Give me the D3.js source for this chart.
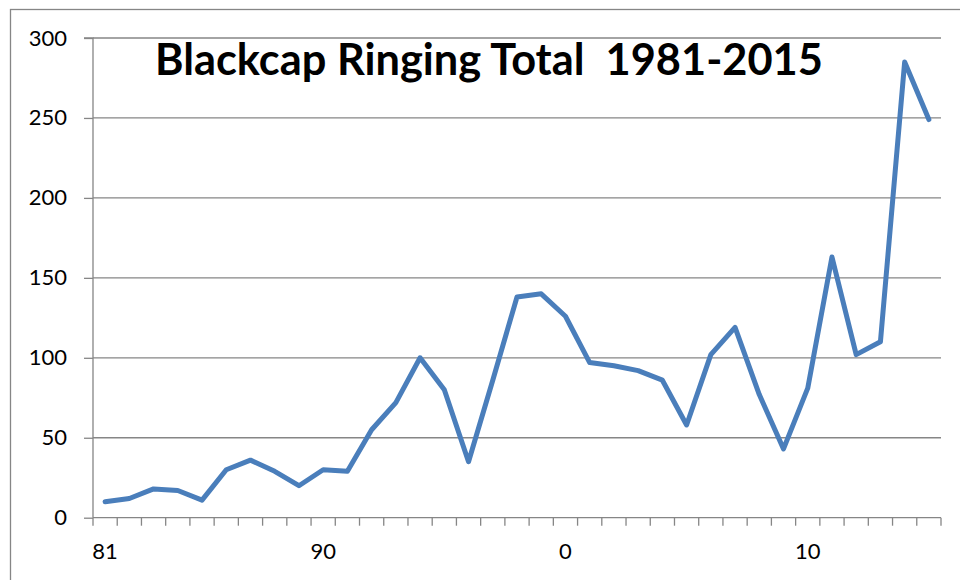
<!DOCTYPE html>
<html><head><meta charset="utf-8">
<script src="https://cdn.jsdelivr.net/npm/d3@7"></script>
<style>body{margin:0;background:#fff;} svg{display:block;}</style>
</head><body>
<svg id="chart" width="960" height="580"></svg>
<script>
const years = d3.range(1981, 2016);
const totals = [10,12,18,17,11,30,36,29,20,30,29,55,72,100,80,35,86,138,140,126,97,95,92,86,58,102,119,77,43,81,163,102,110,285,249];
const yTicks = [0,50,100,150,200,250,300];
const xLabels = {1981:"81",1990:"90",2000:"0",2010:"10"};
const title = "Blackcap Ringing Total  1981-2015";

const svg = d3.select("#chart");
const L = 93, R = 941, T = 38, B = 517.7;
const grid = "#868686";
const font = "Lato, 'Noto Sans', sans-serif";

svg.append("rect").attr("x",10.5).attr("y",9.5).attr("width",980).attr("height",620)
  .attr("fill","none").attr("stroke",grid).attr("stroke-width",1.3);

const x = d3.scaleBand().domain(years).range([L,R]).padding(0);
const y = d3.scaleLinear().domain([0,300]).range([B,T]);

// gridlines
svg.append("g").selectAll("line").data(yTicks.filter(d=>d>0)).join("line")
  .attr("x1",L).attr("x2",R).attr("y1",d=>y(d)).attr("y2",d=>y(d))
  .attr("stroke",grid).attr("stroke-width",1.3);

// y axis
const ya = svg.append("g").attr("transform",`translate(${L},0)`)
  .call(d3.axisLeft(y).tickValues(yTicks).tickSize(9).tickPadding(17));
ya.selectAll("path,line").attr("stroke",grid).attr("stroke-width",1.3);
ya.select(".domain").attr("d",`M-9,${T}H0V${B}`);
ya.selectAll("text").attr("font-family",font).attr("font-size",22).attr("fill","#000");

// x axis
const xa = svg.append("g").attr("transform",`translate(0,${B})`)
  .call(d3.axisBottom(x).tickValues(years).tickSize(0).tickPadding(0).tickFormat(d=>xLabels[d]||""));
xa.select(".domain").attr("d",`M${L},0H${R}`).attr("stroke",grid).attr("stroke-width",1.3);
xa.selectAll("text").attr("font-family",font).attr("font-size",22).attr("fill","#000").attr("dy",0).attr("y",41);
const edges = years.map(d=>x(d)).concat([R]);
xa.append("g").selectAll("line").data(edges).join("line")
  .attr("x1",d=>d).attr("x2",d=>d).attr("y1",0).attr("y2",8)
  .attr("stroke",grid).attr("stroke-width",1.3);

// line
const line = d3.line().x((d,i)=>x(years[i])+x.bandwidth()/2).y(d=>y(d));
svg.append("path").datum(totals).attr("d",line)
  .attr("fill","none").attr("stroke","#4A7EBB").attr("stroke-width",5)
  .attr("stroke-linejoin","round").attr("stroke-linecap","round");

// title
const t = svg.append("text").attr("x",155).attr("y",75)
  .attr("font-family",font).attr("font-weight","bold").attr("font-size",41)
  .style("white-space","pre").attr("fill","#000").text(title);
const w = t.node().getComputedTextLength();
t.attr("font-size", 41*668/w);
</script>
</body></html>
